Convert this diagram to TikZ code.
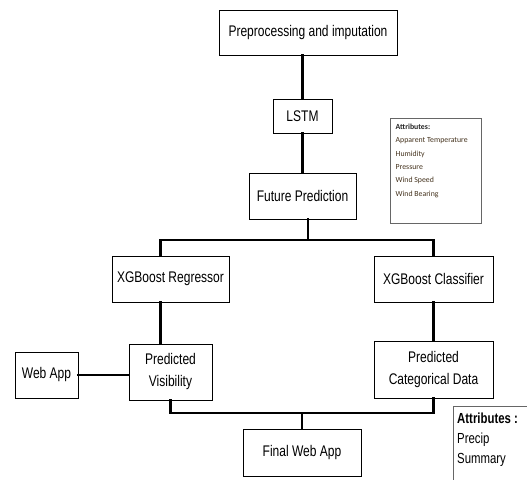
\documentclass[tikz,border=0pt]{standalone}
\usepackage{fontspec}
\setmainfont{Liberation Sans}[FakeStretch=0.78]
\newfontfamily\attrfont{Carlito}
\definecolor{attrbrown}{HTML}{45331E}
\usetikzlibrary{positioning, calc}

\begin{document}
\begin{tikzpicture}[x=1pt, y=-1pt,
    node distance=40pt and 50pt,
    box/.style={rectangle, draw=black, line width=1pt, fill=white,
                font=\fontsize{15.4}{22}\selectfont, align=center,
                inner sep=2pt},
    attrbox/.style={rectangle, draw=gray!80!black, line width=1pt, fill=white},
    link/.style={line width=2.6pt, line cap=rect}
  ]
  \useasboundingbox (0,0) rectangle (527,479);
  \clip (0,0) rectangle (527,479);
  \fill[white] (0,0) rectangle (527,479);

  \node[box, minimum width=178pt, minimum height=45pt] (prep) at (308,32.5)
       {Preprocessing and imputation};
  \node[box, minimum width=59pt, minimum height=34pt, below=43pt of prep,
        xshift=-5.5pt] (lstm) {LSTM};
  \node[box, minimum width=107pt, minimum height=46pt, below=39pt of lstm]
       (fut) {Future Prediction};

  \node[box, minimum width=117pt, minimum height=46pt] (reg) at (170.5,279)
       {XGBoost Regressor};
  \node[box, minimum width=119pt, minimum height=46pt] (cls) at (433.5,279)
       {XGBoost Classifier};

  \node[box, minimum width=83pt, minimum height=56pt, below=41pt of reg]
       (vis) {Predicted\\ Visibility};
  \node[box, minimum width=119pt, minimum height=57pt, below=38pt of cls]
       (cat) {Predicted\\ Categorical Data};
  \node[box, minimum width=63pt, minimum height=46pt, left=50pt of vis,
        yshift=-3pt] (web) {Web App};

  \node[box, minimum width=118pt, minimum height=47pt] (fin) at (302,452.5)
       {Final Web App};

  % Attribute lists
  \node[attrbox, minimum width=91pt, minimum height=105pt, anchor=north west]
       (attrA) at (390,118) {};
  \node[anchor=north west, align=left, inner sep=0pt, text=attrbrown,
        font=\attrfont\fontsize{7.8}{13.3}\selectfont]
       (attrAtxt) at ([shift={(5.5pt,-6pt)}]attrA.north west)
       {\textbf{\color{black!85}Attributes:}\\ Apparent Temperature\\ Humidity\\
        Pressure\\ Wind Speed\\ Wind Bearing};
  \node[attrbox, minimum width=160pt, minimum height=160pt, anchor=north west]
       (attrB) at (453,406) {};
  \node[anchor=north west, align=left, inner sep=0pt,
        font=\fontsize{14.6}{20}\selectfont]
       (attrBtxt) at ([shift={(4pt,-7pt)}]attrB.north west)
       {\textbf{Attributes :}\\ Precip\\ Summary};

  % Connectors
  \coordinate (splitT) at (308,240);
  \coordinate (joinB) at (302,413);
  \draw[link] (prep.south -| lstm.north) -- (lstm.north);
  \draw[link] (lstm.south) -- (lstm.south |- fut.north);
  \draw[link] (splitT |- fut.south) -- (splitT);
  \draw[link] ([xshift=-10pt]reg.north) |- (splitT) -| (cls.north);
  \draw[link] ([xshift=-10pt]reg.south) -- ([xshift=-10pt]reg.south |- vis.north);
  \draw[link] (cls.south) -- (cat.north);
  \draw[link] (web.east) -- (web.east -| vis.west);
  \draw[link] (vis.south) |- (joinB) -| (cat.south);
  \draw[link] (joinB) -- (joinB |- fin.north);
\end{tikzpicture}
\end{document}
